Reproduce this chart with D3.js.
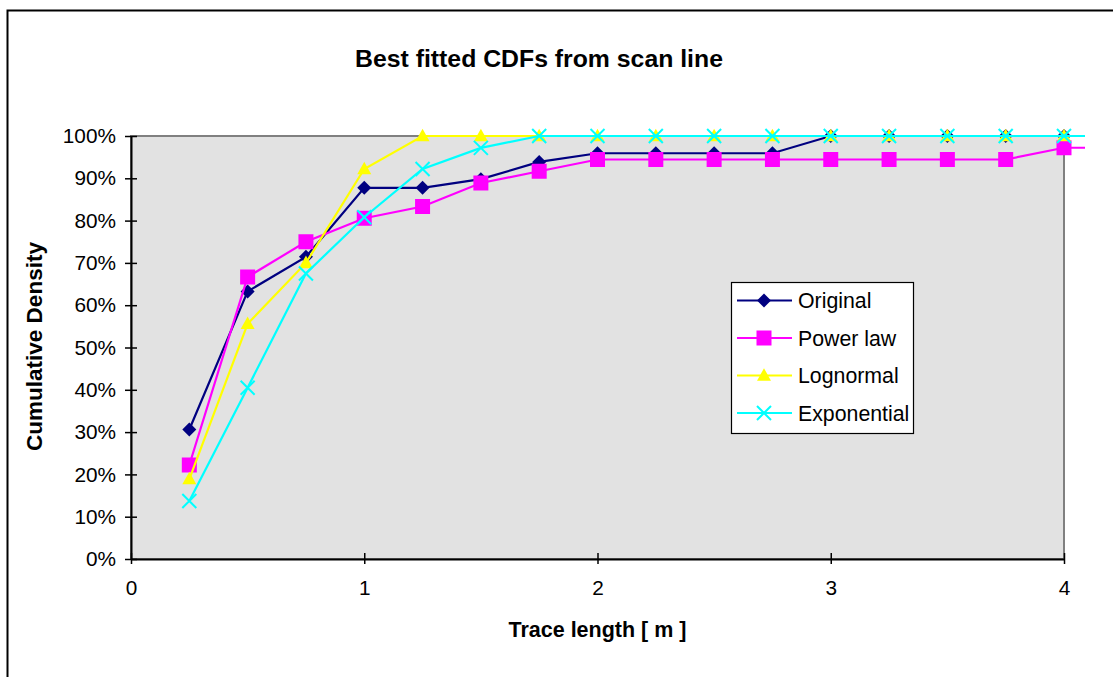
<!DOCTYPE html>
<html>
<head>
<meta charset="utf-8">
<script src="https://cdn.jsdelivr.net/npm/d3@7"></script>
<style>
  html, body { margin: 0; padding: 0; background: #ffffff; }
  svg { display: block; font-family: Arial, "Liberation Sans", sans-serif; }
</style>
</head>
<body>
<svg id="chart" width="1113" height="677"></svg>
<script>
// Trace length (m) at which each CDF is evaluated; the last step runs past the axis end
const traceLength = [0.25, 0.5, 0.75, 1.0, 1.25, 1.5, 1.75, 2.0, 2.25, 2.5, 2.75, 3.0, 3.25, 3.5, 3.75, 4.0, 4.25];

// Empirical CDF of the scan-line traces (49 traces)
const original = [15, 31, 35, 43, 43, 44, 46, 47, 47, 47, 47, 49, 49, 49, 49, 49, 49].map(k => k / 49);
// Fitted distributions
const powerLaw = [8, 24, 27, 29, 30, 32, 33, 34, 34, 34, 34, 34, 34, 34, 34, 35, 35].map(k => k / 36);
const lognormal = [0.189, 0.556, 0.700, 0.922, 1.0, 1.0, 1.0, 1.0, 1.0, 1.0, 1.0, 1.0, 1.0, 1.0, 1.0, 1.0, 1.0];
const exponential = [0.137, 0.405, 0.675, 0.808, 0.922, 0.972, 1.0, 1.0, 1.0, 1.0, 1.0, 1.0, 1.0, 1.0, 1.0, 1.0, 1.0];

const seriesNames = ["Original", "Power law", "Lognormal", "Exponential"];
const seriesValues = [original, powerLaw, lognormal, exponential];

const xTicks = [0, 1, 2, 3, 4];
const yTicks = [0, 0.1, 0.2, 0.3, 0.4, 0.5, 0.6, 0.7, 0.8, 0.9, 1.0];

const titleText = "Best fitted CDFs from scan line";
const xTitle = "Trace length [ m ]";
const yTitle = "Cumulative Density";

// ---- styling ----
const colors = ["#000080", "#ff00ff", "#ffff00", "#00ffff"];
const symbols = ["diamond", "square", "triangle", "cross"];

const svg = d3.select("#chart");
const plot = { left: 131, right: 1064, top: 136, bottom: 559 };

const x = d3.scaleLinear().domain([0, 4]).range([plot.left, plot.right]);
const y = d3.scaleLinear().domain([0, 1]).range([plot.bottom, plot.top]);

// outer chart frame
svg.append("rect")
  .attr("x", 7.5).attr("y", 10.5)
  .attr("width", 1130).attr("height", 700)
  .attr("fill", "#ffffff").attr("stroke", "#000").attr("stroke-width", 2);

// plot area
svg.append("rect")
  .attr("x", plot.left).attr("y", plot.top)
  .attr("width", plot.right - plot.left).attr("height", plot.bottom - plot.top)
  .attr("fill", "#e2e2e2").attr("stroke", "#808080").attr("stroke-width", 2);

// title
svg.append("text")
  .attr("x", 539).attr("y", 67)
  .attr("text-anchor", "middle")
  .attr("font-size", 24.8).attr("font-weight", "bold")
  .text(titleText);

// y axis
const yAxis = d3.axisLeft(y)
  .tickValues(yTicks)
  .tickFormat(d3.format(".0%"))
  .tickSizeInner(6).tickSizeOuter(0).tickPadding(9);
const gy = svg.append("g").attr("transform", `translate(${plot.left},0)`).call(yAxis);
gy.select(".domain").attr("stroke", "#000").attr("stroke-width", 2);
gy.selectAll(".tick line").attr("stroke", "#000").attr("stroke-width", 1.5).attr("x2", 6).attr("x1", -6);
gy.selectAll(".tick text").attr("font-size", 20.8).attr("font-family", "Arial, 'Liberation Sans', sans-serif").attr("fill", "#000");

// x axis
const xAxis = d3.axisBottom(x)
  .tickValues(xTicks)
  .tickFormat(d3.format("d"))
  .tickSizeInner(5).tickSizeOuter(0).tickPadding(16);
const gx = svg.append("g").attr("transform", `translate(0,${plot.bottom})`).call(xAxis);
gx.select(".domain").attr("stroke", "#000").attr("stroke-width", 2);
gx.selectAll(".tick line").attr("stroke", "#000").attr("stroke-width", 1.5).attr("y1", -6).attr("y2", 5);
gx.selectAll(".tick text").attr("font-size", 20.8).attr("font-family", "Arial, 'Liberation Sans', sans-serif").attr("fill", "#000");

// axis titles
svg.append("text")
  .attr("x", (plot.left + plot.right) / 2).attr("y", 637)
  .attr("text-anchor", "middle")
  .attr("font-size", 21.5).attr("font-weight", "bold")
  .text(xTitle);

svg.append("text")
  .attr("transform", `translate(42,${(plot.top + plot.bottom) / 2 - 1}) rotate(-90)`)
  .attr("text-anchor", "middle")
  .attr("font-size", 22.5).attr("font-weight", "bold")
  .text(yTitle);

// lines run slightly past the last tick, then are cut off
svg.append("clipPath").attr("id", "lineClip")
  .append("rect")
  .attr("x", plot.left).attr("y", 0)
  .attr("width", x(4.09) - plot.left).attr("height", plot.bottom + 10);

function drawMarker(g, sym, color, size) {
  const h = size / 2;
  if (sym === "diamond") {
    g.append("path").attr("d", `M0,${-h}L${h},0L0,${h}L${-h},0Z`).attr("fill", color);
  } else if (sym === "square") {
    g.append("rect").attr("x", -h).attr("y", -h).attr("width", size).attr("height", size).attr("fill", color);
  } else if (sym === "triangle") {
    g.append("path").attr("d", `M0,${-h * 1.05}L${h},${h * 0.75}L${-h},${h * 0.75}Z`).attr("fill", color);
  } else {
    g.append("path").attr("d", `M${-h},${-h}L${h},${h}M${-h},${h}L${h},${-h}`)
      .attr("stroke", color).attr("stroke-width", 2).attr("fill", "none");
  }
}

const markerSizes = [14, 15, 14, 14];
const line = d3.line().x(d => x(d[0])).y(d => y(d[1]));

seriesValues.forEach((vals, i) => {
  const pts = traceLength.map((t, j) => [t, vals[j]]);
  const g = svg.append("g");
  g.append("path")
    .attr("d", line(pts))
    .attr("fill", "none").attr("stroke", colors[i]).attr("stroke-width", 2.2)
    .attr("clip-path", "url(#lineClip)");
  pts.filter(p => p[0] <= 4).forEach(p => {
    const m = g.append("g").attr("transform", `translate(${x(p[0])},${y(p[1])})`);
    drawMarker(m, symbols[i], colors[i], markerSizes[i]);
  });
});

// legend
const lg = svg.append("g").attr("transform", "translate(731,282)");
lg.append("rect").attr("x", 0.5).attr("y", 0.5).attr("width", 182).attr("height", 151)
  .attr("fill", "#ffffff").attr("stroke", "#000").attr("stroke-width", 1.2);
seriesNames.forEach((name, i) => {
  const cy = 18.5 + i * 37.5;
  lg.append("line").attr("x1", 6).attr("x2", 61).attr("y1", cy).attr("y2", cy)
    .attr("stroke", colors[i]).attr("stroke-width", 2.2);
  const m = lg.append("g").attr("transform", `translate(33,${cy})`);
  drawMarker(m, symbols[i], colors[i], markerSizes[i]);
  lg.append("text").attr("x", 67).attr("y", cy + 7.5)
    .attr("font-size", 21.3).text(name);
});
</script>
</body>
</html>
